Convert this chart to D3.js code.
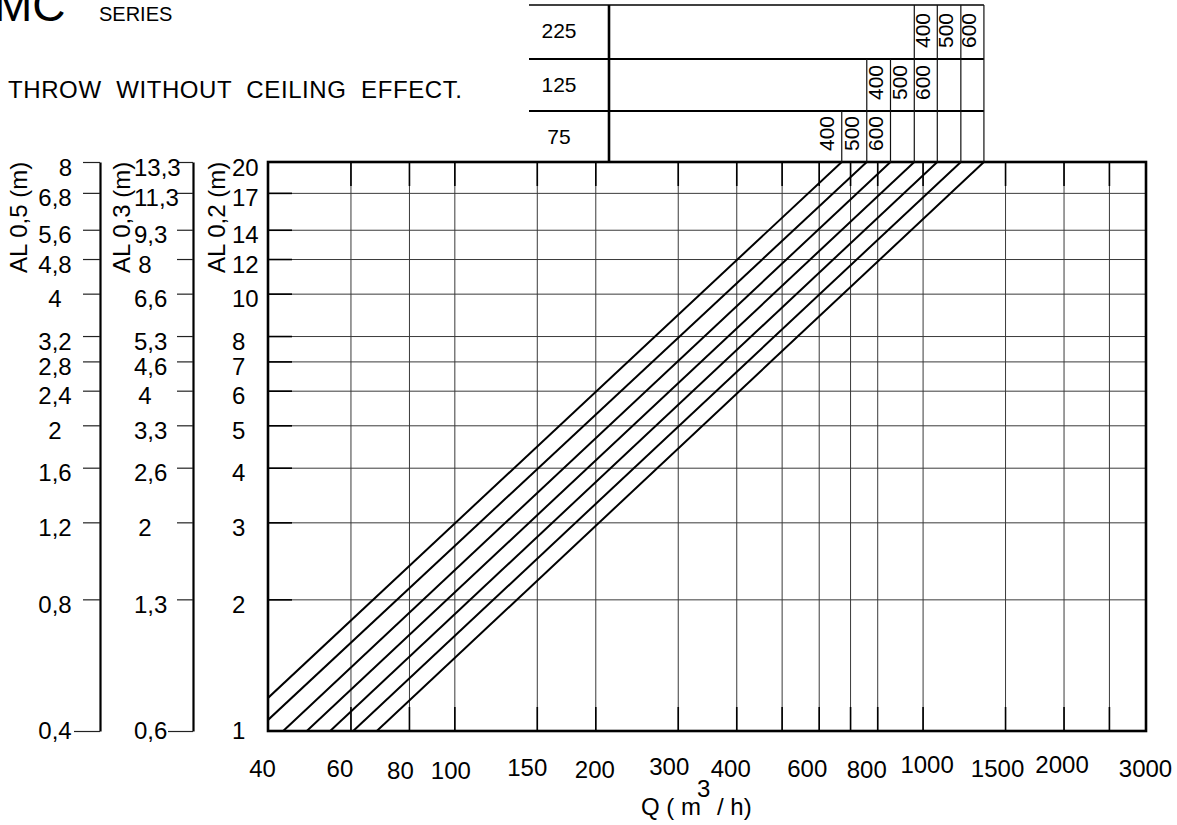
<!DOCTYPE html>
<html><head><meta charset="utf-8">
<script src="https://cdn.jsdelivr.net/npm/d3@7"></script>
<style>
html,body{margin:0;padding:0;background:#fff;}
svg{display:block;font-family:"Liberation Sans",Arial,sans-serif;}
</style></head><body>
<svg id="chart" width="1177" height="825"></svg>
<script>
// ---------- data ----------
const qGrid = [40,60,80,100,150,200,300,400,500,600,700,800,1000,1500,2000,2500,3000];
const qLabels = [40,60,80,100,150,200,300,400,600,800,1000,1500,2000,3000];
const alValues = [1,2,3,4,5,6,7,8,10,12,14,17,20];          // AL 0,2 (m)
const al02Labels = ["1","2","3","4","5","6","7","8","10","12","14","17","20"];
const al03Labels = ["0,6","1,3","2","2,6","3,3","4","4,6","5,3","6,6","8","9,3","11,3","13,3"];
const al05Labels = ["0,4","0,8","1,2","1,6","2","2,4","2,8","3,2","4","4,8","5,6","6,8","8"];
// seven throw lines (Q m3/h , AL0,2 m) start and end points
const lineStartQ  = [40, 40, 43.1, 48.4, 54.3, 60.8, 68.3];
const lineStartAL = [1.19, 1.06, 1, 1, 1, 1, 1];
const lineEndQ    = [672, 760, 854, 960, 1075, 1207, 1352];
const lineEndAL   = [20, 20, 20, 20, 20, 20, 20];
// selection table: diffuser rows, sizes and the line each size uses
const tableRows = ["225","125","75"];
const rowSizes = [["400","500","600"],["400","500","600"],["400","500","600"]];
const rowLineIndex = [[4,5,6],[2,3,4],[0,1,2]];

// ---------- layout (pixel nudges of the hand-placed Q labels) ----------
const qLabelDx = [-6,-11,-9,-4,-10,-1,-9,-6,-12,-11,4,-8,-2,-1];
const qLabelBase = [46,46,48,48,45,47,44,46,46,47,42,46,42,46];

const svg = d3.select("#chart");
const P = {left:268,right:1146,top:162,bottom:731};
const x = d3.scaleLog().domain([40,3000]).range([P.left,P.right]);
const y = d3.scaleLog().domain([1,20]).range([P.bottom,P.top]);
const H = P.bottom - P.top, W = P.right - P.left;

// header texts
svg.append("text").attr("x",-6).attr("y",21).attr("font-size",46).text("MC");
svg.append("text").attr("x",99).attr("y",21).attr("font-size",20).text("SERIES");
svg.append("text").attr("x",8).attr("y",98).attr("font-size",24)
  .style("white-space","pre").attr("textLength",454).attr("lengthAdjust","spacing")
  .text("THROW  WITHOUT  CEILING  EFFECT.");

// grid lines
svg.append("g").attr("transform",`translate(0,${P.bottom})`)
  .call(d3.axisBottom(x).tickValues(qGrid.slice(1,-1)).tickSize(-H).tickFormat(""))
  .call(g=>g.select(".domain").remove())
  .selectAll("line").attr("stroke","#3a3a3a").attr("stroke-width",1);
svg.append("g").attr("transform",`translate(${P.left},0)`)
  .call(d3.axisLeft(y).tickValues(alValues.slice(1,-1)).tickSize(-W).tickFormat(""))
  .call(g=>g.select(".domain").remove())
  .selectAll("line").attr("stroke","#3a3a3a").attr("stroke-width",1);

// inner ticks
const tickLen = 24;
svg.append("g").attr("transform",`translate(0,${P.bottom})`)
  .call(d3.axisBottom(x).tickValues(qGrid.slice(1,-1)).tickSize(-tickLen).tickFormat(""))
  .call(g=>g.select(".domain").remove())
  .selectAll("line").attr("stroke","#000").attr("stroke-width",1.6);
svg.append("g").attr("transform",`translate(0,${P.top})`)
  .call(d3.axisTop(x).tickValues(qGrid.slice(1,-1)).tickSize(-tickLen).tickFormat(""))
  .call(g=>g.select(".domain").remove())
  .selectAll("line").attr("stroke","#000").attr("stroke-width",1.6);
svg.append("g").attr("transform",`translate(${P.left},0)`)
  .call(d3.axisLeft(y).tickValues(alValues.slice(1,-1)).tickSize(-tickLen).tickFormat(""))
  .call(g=>g.select(".domain").remove())
  .selectAll("line").attr("stroke","#000").attr("stroke-width",1.6);

// throw lines
const clip = svg.append("clipPath").attr("id","plotclip");
clip.append("rect").attr("x",P.left).attr("y",P.top).attr("width",W).attr("height",H);
const lineGen = d3.line().x(d=>x(d[0])).y(d=>y(d[1]));
svg.append("g").attr("clip-path","url(#plotclip)")
  .selectAll("path").data(lineStartQ.map((q,i)=>[[q,lineStartAL[i]],[lineEndQ[i],lineEndAL[i]]]))
  .join("path").attr("d",lineGen).attr("fill","none").attr("stroke","#000").attr("stroke-width",2);

// frame
svg.append("rect").attr("x",P.left).attr("y",P.top).attr("width",W).attr("height",H)
  .attr("fill","none").attr("stroke","#000").attr("stroke-width",2.6);

// x tick labels
svg.append("g").attr("transform",`translate(0,${P.bottom})`)
  .call(d3.axisBottom(x).tickValues(qLabels).tickSize(0).tickFormat(d=>String(d)))
  .call(g=>g.select(".domain").remove())
  .selectAll("text").attr("font-size",24).attr("fill","#000").attr("font-family",null)
  .attr("dy",null).attr("y",(d,i)=>qLabelBase[i]).attr("x",(d,i)=>qLabelDx[i]);

// x title
const xt = svg.append("text").attr("font-size",24).attr("y",815);
xt.append("tspan").attr("x",641).text("Q ( m");
xt.append("tspan").attr("x",697).attr("y",797).text("3");
xt.append("tspan").attr("x",717).attr("y",815).text("/ h)");

// left scales
function leftScale(xPos, labels, tickL, labelFn, axisLine){
  const g = svg.append("g").attr("transform",`translate(${xPos},0)`)
    .call(d3.axisLeft(y).tickValues(alValues).tickSizeInner(tickL).tickSizeOuter(0).tickPadding(0)
      .tickFormat((d,i)=>labels[i]));
  g.select(".domain").attr("stroke",axisLine?"#000":"none").attr("stroke-width",2.2);
  g.selectAll(".tick line").attr("stroke","#222").attr("stroke-width",1.2)
    .attr("x2",d=> axisLine ? (d===1 ? -tickL-9 : -tickL) : 0);
  g.selectAll(".tick text").attr("font-size",24).attr("fill","#000").attr("font-family",null)
    .attr("dy",null).attr("y",d=> d===1 ? 7 : 13)
    .each(function(d,i){ labelFn(d3.select(this), labels[i], i, xPos); });
  return g;
}
// AL 0,5
leftScale(100, al05Labels, 17, (t,lab,i,xp)=>{
  if(i===al05Labels.length-1){ t.attr("text-anchor","end").attr("x",72-xp); }
  else { t.attr("text-anchor","middle").attr("x",55-xp); }
}, true);
// AL 0,3
leftScale(193, al03Labels, 16, (t,lab,i,xp)=>{
  if(lab.length===1){ t.attr("text-anchor","middle").attr("x",145-xp); }
  else { t.attr("text-anchor","start").attr("x",134-xp); }
}, true);
// AL 0,2 (plot edge)
leftScale(P.left, al02Labels, 0, (t,lab,i,xp)=>{
  t.attr("text-anchor","start").attr("x",232-xp);
}, false);

// axis titles
[["AL 0,5 (m)",27],["AL 0,3 (m)",130],["AL 0,2 (m)",225]].forEach(([s,bx])=>{
  svg.append("text").attr("font-size",24).attr("text-anchor","start")
    .attr("transform",`translate(${bx},273) rotate(-90)`).text(s);
});

// selection table
const T = {left:529, divider:609, tops:[5,59,111], bottom:P.top};
const tRight = x(lineEndQ[lineEndQ.length-1]);
svg.append("line").attr("x1",T.left).attr("x2",tRight).attr("y1",T.tops[0]).attr("y2",T.tops[0])
  .attr("stroke","#000").attr("stroke-width",1.6);
T.tops.slice(1).forEach(yy=>{
  svg.append("line").attr("x1",T.left).attr("x2",tRight).attr("y1",yy).attr("y2",yy)
    .attr("stroke","#000").attr("stroke-width",2.2);
});
svg.append("line").attr("x1",T.divider).attr("x2",T.divider).attr("y1",T.tops[0]).attr("y2",T.bottom)
  .attr("stroke","#000").attr("stroke-width",2.6);
tableRows.forEach((r,ri)=>{
  const top = T.tops[ri];
  const bot = ri<T.tops.length-1 ? T.tops[ri+1] : T.bottom;
  svg.append("text").attr("x",559).attr("y",top+33).attr("text-anchor","middle")
    .attr("font-size",21).text(r);
  const idx = rowLineIndex[ri];
  const from = Math.max(idx[0]-1,0);
  for(let k=from;k<lineEndQ.length;k++){
    svg.append("line").attr("x1",x(lineEndQ[k])).attr("x2",x(lineEndQ[k]))
      .attr("y1",top).attr("y2",bot).attr("stroke","#111").attr("stroke-width",1.2);
  }
  rowSizes[ri].forEach((s,j)=>{
    svg.append("text").attr("font-size",21).attr("text-anchor","start")
      .attr("transform",`translate(${x(lineEndQ[idx[j]])-7.5},${bot-11}) rotate(-90)`).text(s);
  });
});
</script>
</body></html>
